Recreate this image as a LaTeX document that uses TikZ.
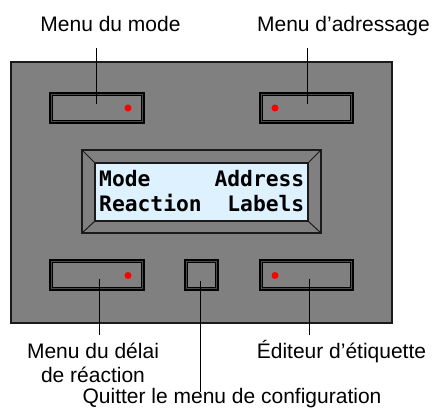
\documentclass[tikz,border=0pt]{standalone}
\usepackage{fontspec}
\setmainfont{Liberation Sans}
\newfontfamily\lcdfont{DejaVu Sans Mono}
\definecolor{panelgray}{HTML}{808080}
\definecolor{bandgray}{HTML}{4C4C4C}
\definecolor{lcdblue}{HTML}{DDF1FE}
\definecolor{edge}{HTML}{1A1A1A}
\begin{document}
\begin{tikzpicture}[x=1pt,y=-1pt,
  lbl/.style={anchor=base,inner sep=0,font=\fontsize{21}{24}\selectfont,align=center},
  btn/.style={draw=black,fill=bandgray,line width=1.6pt,inner sep=0,minimum height=30.4pt},
  btninner/.style={draw=black,fill=panelgray,line width=0.8pt},
  dot/.style={circle,fill=red,inner sep=0,minimum size=7pt},
  lead/.style={draw=black,line width=0.9pt},
  lcdtxt/.style={inner sep=0,font=\lcdfont\bfseries\fontsize{21.3}{25}\selectfont}]
\useasboundingbox (0,0) rectangle (437,411);
% panel
\node[draw=edge,fill=panelgray,line width=1.2pt,inner sep=0,minimum width=381pt,minimum height=261pt] (panel) at (201.5,192.5) {};
% buttons
\foreach \n/\x/\y/\w in {b1/97/108/94.4, b2/306.5/108/93.4, b3/97/275/94.4, b4/306.5/275/93.4, b5/201.5/275/33.4}{
  \node[btn,minimum width=\w pt] (\n) at (\x,\y) {};
  \draw[btninner] ([shift={(3.6,3.6)}]\n.north west) rectangle ([shift={(-3.6,-3.6)}]\n.south east);
}
\node[dot] (d1) at (128,108) {};
\node[dot] (d2) at (275,108) {};
\node[dot] (d3) at (128,275.5) {};
\node[dot] (d4) at (275,275.5) {};
% display
\node[draw=edge,fill=panelgray,line width=1.2pt,inner sep=0,minimum width=239pt,minimum height=83pt] (bezel) at (201.5,191.5) {};
\node[draw=edge,fill=lcdblue,line width=1.2pt,inner sep=0,minimum width=213pt,minimum height=58pt] (lcd) at (201.5,192) {};
\draw[edge,line width=1pt] (bezel.north west) -- (lcd.north west);
\draw[edge,line width=1pt] (bezel.north east) -- (lcd.north east);
\draw[edge,line width=1pt] (bezel.south west) -- (lcd.south west);
\draw[edge,line width=1pt] (bezel.south east) -- (lcd.south east);
\node[lcdtxt,anchor=base west] (t1) at (99,187) {Mode};
\node[lcdtxt,anchor=base east] (t2) at (304.5,187) {Address};
\node[lcdtxt,anchor=base west] (t3) at (99,212) {Reaction};
\node[lcdtxt,anchor=base east] (t4) at (304.5,212) {Labels};
% labels
\node[lbl] (L1) at (110.5,32) {Menu du mode};
\node[lbl] (L2) at (343.5,32) {Menu d’adressage};
\node[lbl] (L3) at (93,383) {Menu du délai\\de réaction};
\node[lbl] (L4) at (341.5,359) {Éditeur d’étiquette};
\node[lbl] (L5) at (232,404) {Quitter le menu de configuration};
% leader lines
\coordinate (c1a) at (96,48);   \coordinate (c1b) at (96,104);
\coordinate (c2a) at (307,48);  \coordinate (c2b) at (307,104);
\coordinate (c3a) at (99,279);  \coordinate (c3b) at (99,335);
\coordinate (c4a) at (309,279); \coordinate (c4b) at (309,335);
\coordinate (c5a) at (200,281); \coordinate (c5b) at (200,392);
\draw[lead] (c1a) -- (c1b);
\draw[lead] (c2a) -- (c2b);
\draw[lead] (c3a) -- (c3b);
\draw[lead] (c4a) -- (c4b);
\draw[lead] (c5a) -- (c5b);
\end{tikzpicture}
\end{document}
